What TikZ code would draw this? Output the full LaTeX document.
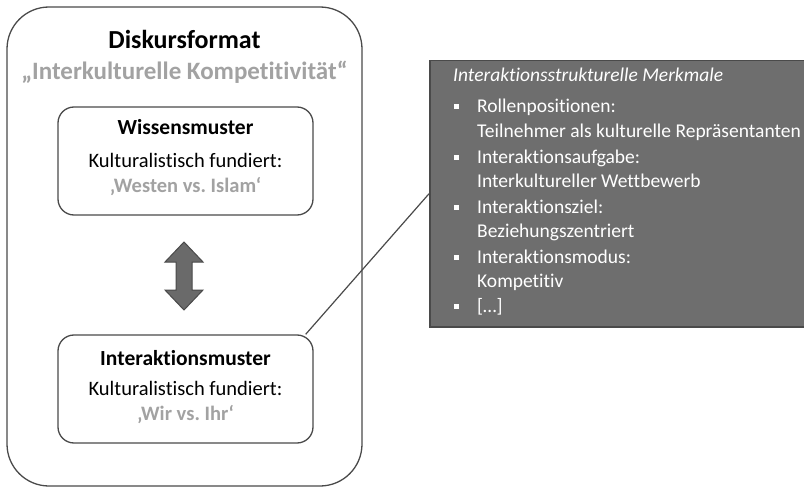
\documentclass[tikz,border=0pt]{standalone}
\usepackage{fontspec}
\setmainfont[Ligatures={NoCommon}]{Carlito}
\definecolor{edge}{HTML}{4A4A4A}
\definecolor{lightgray}{HTML}{A2A2A2}
\definecolor{boxfill}{HTML}{6E6E6E}
\definecolor{arrowfill}{HTML}{6A6A6A}
\tikzset{
  frame/.style={draw=edge, line width=1.3pt, fill=white},
  lbl/.style={inner sep=0pt, anchor=base},
  wlbl/.style={inner sep=0pt, anchor=base west, text=white, font=\fontsize{19.5}{22}\selectfont},
  bul/.style={fill=white, draw=none, minimum size=5pt, inner sep=0pt},
}
\frenchspacing
\begin{document}
\begin{tikzpicture}[x=1pt,y=-1pt]
\useasboundingbox (0,0) rectangle (804,487);
\fill[white] (0,0) rectangle (804,487);
% outer frame
\draw[frame, rounded corners=42pt] (7,7) rectangle (362,486);
\node[lbl, font=\fontsize{26}{30}\selectfont\bfseries] (title) at (184.5,49) {Diskursformat};
\node[lbl, font=\fontsize{25}{28}\selectfont\bfseries, text=lightgray] (sub) at (184.5,80) {„Interkulturelle Kompetitivität“};
% inner boxes
\node[frame, rounded corners=16pt, minimum width=255pt, minimum height=108pt, inner sep=0pt] (box1) at (185.5,161) {};
\node[frame, rounded corners=16pt, minimum width=255pt, minimum height=108pt, inner sep=0pt] (box2) at (185.5,389) {};
\node[lbl, font=\fontsize{21.5}{24}\selectfont\bfseries] (w1) at (185.5,135) {Wissensmuster};
\node[lbl, font=\fontsize{20.5}{24}\selectfont] (w2) at (185.5,167) {Kulturalistisch fundiert:};
\node[lbl, font=\fontsize{20.5}{24}\selectfont\bfseries, text=lightgray] (w3) at (185.5,192) {‚Westen vs. Islam‘};
\node[lbl, font=\fontsize{21.5}{24}\selectfont\bfseries] (i1) at (185.5,365) {Interaktionsmuster};
\node[lbl, font=\fontsize{20.5}{24}\selectfont] (i2) at (185.5,395) {Kulturalistisch fundiert:};
\node[lbl, font=\fontsize{20.5}{24}\selectfont\bfseries, text=lightgray] (i3) at (185.5,420) {‚Wir vs. Ihr‘};
% double arrow
\draw[draw=edge, fill=arrowfill, line width=1pt, line join=miter]
  (184,242) -- (203,262) -- (192,262) -- (192,290) -- (203,290) -- (184,310)
  -- (165,290) -- (176,290) -- (176,262) -- (165,262) -- cycle;
% dark box
\node[draw=edge, fill=boxfill, line width=1.5pt, minimum width=380pt, minimum height=266pt, inner sep=0pt, anchor=north west] (dark) at (429,60) {};
% connector
\draw[edge, line width=1.2pt] ([xshift=-8pt]box2.north east) -- (dark.west);
% dark box text
\node[wlbl, font=\fontsize{19.5}{22}\selectfont\itshape] (head) at (453,82) {Interaktionsstrukturelle Merkmale};
\foreach \y/\t [count=\k] in {113/Rollenpositionen:, 137/Teilnehmer als kulturelle Repräsentanten, 163/Interaktionsaufgabe:, 187/Interkultureller Wettbewerb, 213/Interaktionsziel:, 237/Beziehungszentriert, 263/Interaktionsmodus:, 287/Kompetitiv, 312/{[…]}}{
  \node[wlbl] (t\k) at (477,\y) {\t};
}
\foreach \y [count=\k] in {113,163,213,263,312}{
  \node[bul] (b\k) at (456,\y-6) {};
}
\end{tikzpicture}
\end{document}
